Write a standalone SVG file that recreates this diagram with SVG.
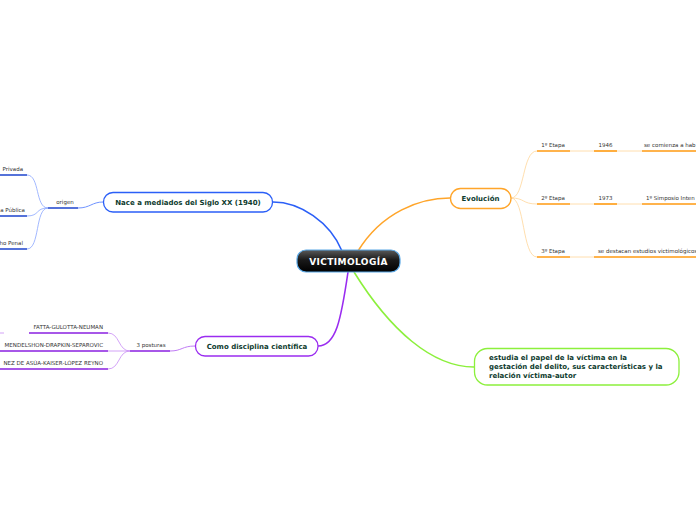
<svg xmlns="http://www.w3.org/2000/svg" width="696" height="520" viewBox="0 0 696 520">
<defs>
<linearGradient id="cg" x1="0" y1="0" x2="0" y2="1">
<stop offset="0" stop-color="#5a5a5a"/>
<stop offset="0.45" stop-color="#1a1a1a"/>
<stop offset="1" stop-color="#000"/>
</linearGradient>
<style>
.nt{font-family:"DejaVu Sans",Verdana,sans-serif;font-weight:bold;font-size:7px;fill:#0e3b2e}
.st{font-family:"DejaVu Sans",Verdana,sans-serif;font-size:5.5px;fill:#333}
.node{fill:#fff;stroke-width:1.3}
.conn{fill:none}
</style>
</defs>
<rect width="696" height="520" fill="#fff"/>
<g id="connectors" class="conn">
<path d="M342 251 C330 222 300 202 273 202" stroke="#2b5ff7" stroke-width="1.6"/>
<path d="M358 251 C382 212 420 198 450 198" stroke="#ffa52a" stroke-width="1.6"/>
<path d="M348 272 C341 320 336 346 318 346" stroke="#9a2cf0" stroke-width="1.6"/>
<path d="M354 272 C390 330 432 367 474 367" stroke="#8cf03c" stroke-width="1.6"/>
<path d="M103 202 C92 202 90 208 78 208" stroke="#6f93ff" stroke-width="1"/>
<path d="M48 208 C35 208 40 175 27 175" stroke="#8aa6ff" stroke-width="0.8"/>
<path d="M48 208 C35 208 40 216 27 216" stroke="#8aa6ff" stroke-width="0.8"/>
<path d="M48 208 C35 208 40 249 27 249" stroke="#8aa6ff" stroke-width="0.8"/>
<path d="M195 346 C182 346 182 351 170 351" stroke="#c07cf5" stroke-width="1"/>
<path d="M130 351 C118 351 120 333 108 333" stroke="#c88cf5" stroke-width="0.8"/>
<path d="M130 351 L108 351" stroke="#c88cf5" stroke-width="0.8"/>
<path d="M130 351 C118 351 120 369 108 369" stroke="#c88cf5" stroke-width="0.8"/>
<path d="M511 198 C525 198 522 151 537 151" stroke="#ffd599" stroke-width="0.8"/>
<path d="M511 198 C525 198 522 204 537 204" stroke="#ffd599" stroke-width="0.8"/>
<path d="M511 198 C525 198 522 257 537 257" stroke="#ffd599" stroke-width="0.8"/>
<path d="M570 151 L594 151 M617 151 L642 151" stroke="#ffd599" stroke-width="0.8"/>
<path d="M570 204 L594 204 M617 204 L642 204" stroke="#ffd599" stroke-width="0.8"/>
<path d="M570 257 L594 257" stroke="#ffd599" stroke-width="0.8"/>
<path d="M0 333 L4 333" stroke="#c88cf5" stroke-width="0.8"/>
</g>
<g id="center">
<rect x="297" y="250" width="103" height="22" rx="9" fill="url(#cg)" stroke="#5aa8e6" stroke-width="1.2"/>
<text x="348.5" y="265" text-anchor="middle" font-family="DejaVu Sans,Verdana,sans-serif" font-weight="bold" font-size="9" fill="#fff" letter-spacing="0.4">VICTIMOLOGÍA</text>
</g>
<g id="nace">
<rect class="node" x="103.5" y="192.5" width="169" height="19.5" rx="9.5" stroke="#2b5ff7"/>
<text class="nt" x="188" y="204.5" text-anchor="middle">Nace a mediados del Siglo XX (1940)</text>
</g>
<g id="origen">
<text class="st" x="65" y="204" text-anchor="middle">origen</text>
<path d="M48 208 H78" stroke="#2b4fd0" stroke-width="1.6"/>
</g>
<g id="privada">
<text class="st" x="23" y="171" text-anchor="end">Privada</text>
<path d="M0 175 H27" stroke="#2b4fd0" stroke-width="1.6"/>
</g>
<g id="publica">
<text class="st" x="25" y="212" text-anchor="end">a Pública</text>
<path d="M0 216 H27" stroke="#2b4fd0" stroke-width="1.6"/>
</g>
<g id="penal">
<text class="st" x="23" y="245" text-anchor="end">ho Penal</text>
<path d="M0 249 H27" stroke="#2b4fd0" stroke-width="1.6"/>
</g>
<g id="evolucion">
<rect class="node" x="450.5" y="188.5" width="60.5" height="20" rx="10" stroke="#ffa52a"/>
<text class="nt" x="480.5" y="200.5" text-anchor="middle">Evolución</text>
</g>
<g id="etapa1">
<text class="st" x="553" y="147" text-anchor="middle">1º Etapa</text>
<path d="M537 151 H570" stroke="#ff9a10" stroke-width="1.6"/>
</g>
<g id="y1946">
<text class="st" x="605.5" y="147" text-anchor="middle">1946</text>
<path d="M594 151 H617" stroke="#ff9a10" stroke-width="1.6"/>
</g>
<g id="comienza">
<text class="st" x="644" y="147" font-size="5.3">se comienza a hab</text>
<path d="M642 151 H696" stroke="#ff9a10" stroke-width="1.6"/>
</g>
<g id="etapa2">
<text class="st" x="553" y="200" text-anchor="middle">2º Etapa</text>
<path d="M537 204 H570" stroke="#ff9a10" stroke-width="1.6"/>
</g>
<g id="y1973">
<text class="st" x="605.5" y="200" text-anchor="middle">1973</text>
<path d="M594 204 H617" stroke="#ff9a10" stroke-width="1.6"/>
</g>
<g id="simposio">
<text class="st" x="646" y="200">1º Simposio Inten</text>
<path d="M642 204 H696" stroke="#ff9a10" stroke-width="1.6"/>
</g>
<g id="etapa3">
<text class="st" x="553" y="253" text-anchor="middle">3º Etapa</text>
<path d="M537 257 H570" stroke="#ff9a10" stroke-width="1.6"/>
</g>
<g id="destacan">
<text class="st" x="598" y="253">se destacan estudios victimológicos</text>
<path d="M594 257 H696" stroke="#ff9a10" stroke-width="1.6"/>
</g>
<g id="como">
<rect class="node" x="195.5" y="336.5" width="122.5" height="19.5" rx="9.5" stroke="#9a2cf0"/>
<text class="nt" x="257" y="348.5" text-anchor="middle">Como disciplina científica</text>
</g>
<g id="posturas">
<text class="st" x="151" y="347" text-anchor="middle">3 posturas</text>
<path d="M130 351 H170" stroke="#8a1fe0" stroke-width="1.6"/>
</g>
<g id="fatta">
<text class="st" x="103" y="329" text-anchor="end">FATTA-GULOTTA-NEUMAN</text>
<path d="M29 333 H108" stroke="#8a1fe0" stroke-width="1.6"/>
</g>
<g id="mendelshon">
<text class="st" x="103" y="347" text-anchor="end">MENDELSHON-DRAPKIN-SEPAROVIC</text>
<path d="M0 351 H108" stroke="#8a1fe0" stroke-width="1.6"/>
</g>
<g id="jimenez">
<text class="st" x="103" y="365" text-anchor="end">NEZ DE ASÚA-KAISER-LÓPEZ REYNO</text>
<path d="M0 369 H108" stroke="#8a1fe0" stroke-width="1.6"/>
</g>
<g id="estudia">
<rect class="node" x="474.5" y="348.5" width="204.5" height="36.5" rx="13" stroke="#8cf03c"/>
<text class="nt" font-size="6.5" x="489" y="359.5">estudia el papel de la víctima en la</text>
<text class="nt" font-size="6.5" x="489" y="368.5">gestación del delito, sus características y la</text>
<text class="nt" font-size="6.5" x="489" y="377.5">relación víctima-autor</text>
</g>
</svg>
